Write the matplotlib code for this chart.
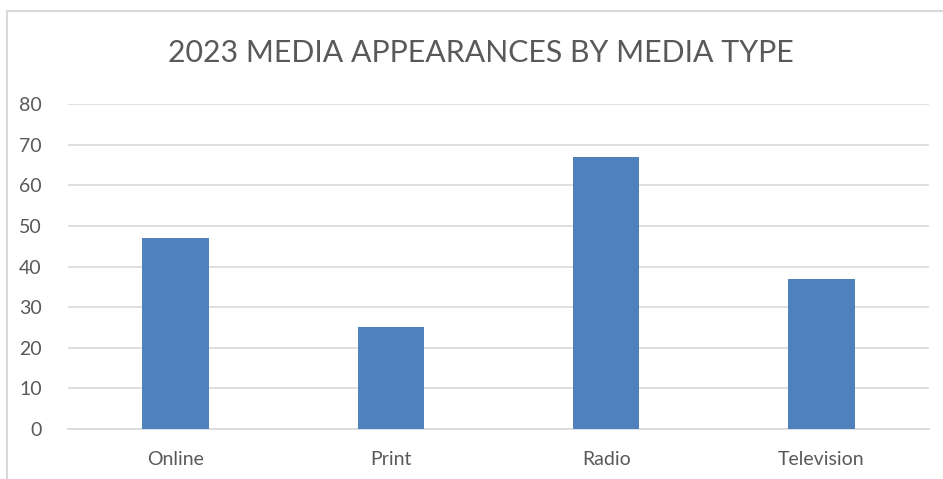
import matplotlib.pyplot as plt
import numpy as np
from matplotlib.patches import Rectangle

categories = ['Online', 'Print', 'Radio', 'Television']
appearances = [47, 25, 67, 37]
yticks = [0, 10, 20, 30, 40, 50, 60, 70, 80]

plt.rcParams['font.family'] = ['Lato', 'DejaVu Sans']

W, H = 943, 479
fig = plt.figure(figsize=(W / 100, H / 100), dpi=100)

# chart frame
fig.patches.append(Rectangle((7 / W, -0.1), 1.2, (H - 11) / H + 0.1,
                             transform=fig.transFigure, fill=False,
                             edgecolor='#D9D9D9', linewidth=1.5))

ax = fig.add_axes([68 / W, (H - 429) / H, (929 - 68) / W, (429 - 104) / H])
x = np.arange(len(categories))
ax.bar(x, appearances, width=0.31, color='#4F81BD', zorder=3)

ax.set_xlim(-0.5, len(categories) - 0.5)
ax.set_ylim(0, 80)
ax.set_yticks(yticks)
ax.set_xticks(x)
ax.set_xticklabels(categories)
ax.yaxis.grid(True, color='#D9D9D9', linewidth=1.2, zorder=0)
ax.tick_params(axis='both', length=0, labelsize=14, colors='#595959')
ax.tick_params(axis='y', pad=19)
ax.tick_params(axis='x', pad=16)
for s in ['top', 'right', 'left']:
    ax.spines[s].set_visible(False)
ax.spines['bottom'].set_color('#D9D9D9')
ax.spines['bottom'].set_linewidth(1.2)

fig.text(481 / W, (H - 53) / H, '2023 MEDIA APPEARANCES BY MEDIA TYPE',
         ha='center', va='center', fontsize=21.8, color='#595959')

fig.savefig('out.png', dpi=100, facecolor='white')
